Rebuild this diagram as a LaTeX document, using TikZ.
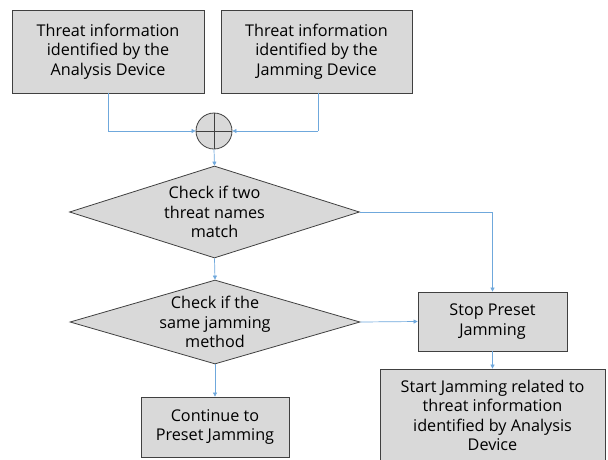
\documentclass[tikz,border=0pt]{standalone}
\usepackage{fontspec}
\setmainfont{Open Sans}
\usetikzlibrary{shapes.geometric,arrows.meta}
\definecolor{boxfill}{HTML}{D9D9D9}
\definecolor{boxline}{HTML}{404040}
\definecolor{arr}{HTML}{6FA8DC}
\begin{document}
\begin{tikzpicture}[x=1pt,y=-1pt,
  txt/.style={align=center,font=\fontsize{16.2}{19.5}\selectfont},
  box/.style={draw=boxline,fill=boxfill,line width=0.8pt,inner sep=0pt,txt},
  dia/.style={diamond,draw=boxline,fill=boxfill,line width=0.8pt,inner sep=0pt,txt},
  conn/.style={draw=arr,line width=0.7pt,-{Triangle[length=4pt,width=4pt]}},
  line/.style={draw=arr,line width=0.7pt}]
\useasboundingbox (0,0) rectangle (608,459);
\node[box,minimum width=192pt,minimum height=83pt] (b1) at (108,51.5) {Threat information\\identified by the\\Analysis Device};
\node[box,minimum width=191pt,minimum height=83pt] (b2) at (316.5,51.5) {Threat information\\identified by the\\Jamming Device};
\node[circle,draw=boxline,fill=boxfill,line width=0.8pt,minimum size=36pt,inner sep=0pt] (c) at (214,131) {};
\draw[boxline,line width=0.8pt] (c.north) -- (c.south) (c.west) -- (c.east);
\node[dia,minimum width=290pt,minimum height=92pt,aspect=3.15] (d1) at (214.5,212) {Check if two\\threat names\\match};
\node[dia,minimum width=290pt,minimum height=84pt,aspect=3.45] (d2) at (215,322) {Check if the\\same jamming\\method};
\node[box,minimum width=149pt,minimum height=59pt] (stop) at (492.5,321.5) {Stop Preset\\Jamming};
\node[box,minimum width=148pt,minimum height=60pt] (cont) at (215,427) {Continue to\\Preset Jamming};
\node[box,minimum width=225pt,minimum height=93pt] (start) at (492.5,415.5) {Start Jamming related to\\threat information\\identified by Analysis\\Device};
\coordinate (j1) at (108,131);
\coordinate (j2) at (318,131);
\coordinate (k1) at (492.5,212);
\draw[line] (b1.south) -- (j1);
\draw[conn] (j1) -- (c.west);
\draw[line] (b2.south -| j2) -- (j2);
\draw[conn] (j2) -- (c.east);
\draw[conn] (c.south) -- (d1.north);
\draw[line] (d1.east) -- (k1);
\draw[conn] (k1) -- (stop.north);
\draw[conn] (d1.south) -- (d2.north);
\draw[conn] (d2.east) -- (stop.west);
\draw[conn] (d2.south) -- (cont.north);
\draw[conn] (stop.south) -- (start.north);
\end{tikzpicture}
\end{document}
